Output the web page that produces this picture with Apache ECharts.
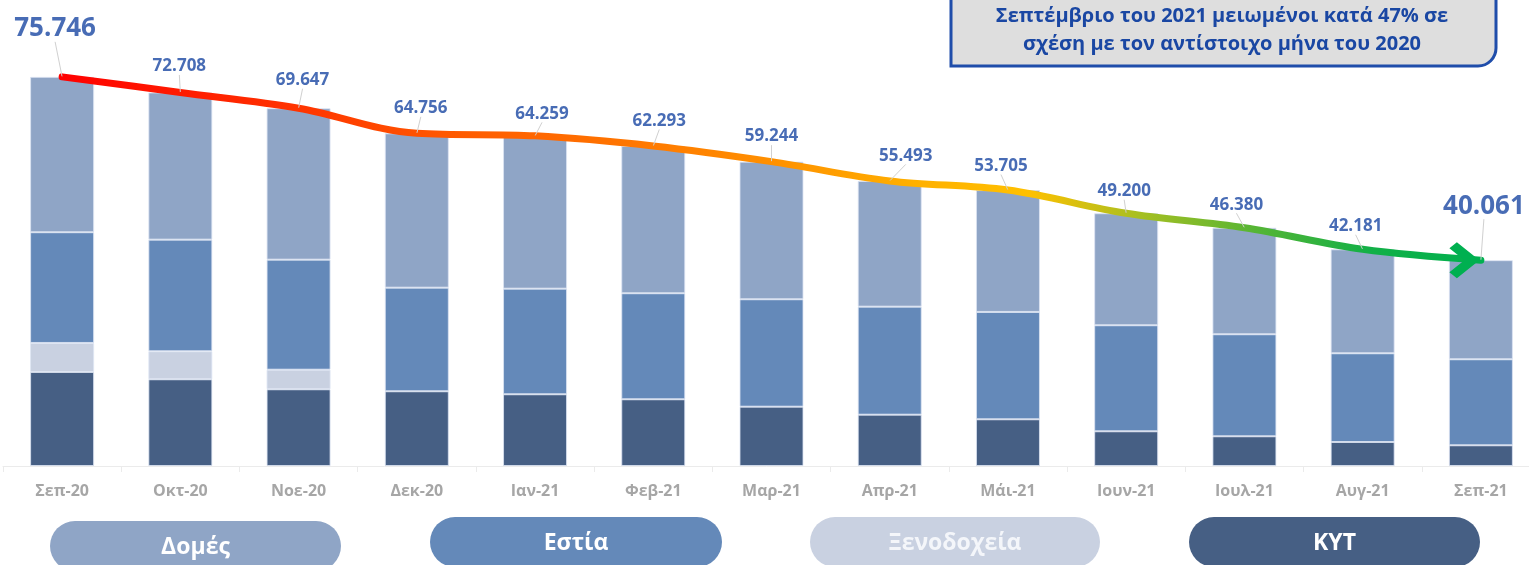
<!DOCTYPE html>
<html>
<head>
<meta charset="utf-8">
<script src="https://cdn.jsdelivr.net/npm/echarts@6/dist/echarts.min.js"></script>
<style>
html,body{margin:0;padding:0;background:#fff;}
#c{width:1529px;height:565px;}
</style>
</head>
<body>
<div id="c"></div>
<script>
// ---- data ----
const categories = ['Σεπ-20','Οκτ-20','Νοε-20','Δεκ-20','Ιαν-21','Φεβ-21','Μαρ-21','Απρ-21','Μάι-21','Ιουν-21','Ιουλ-21','Αυγ-21','Σεπ-21'];
const totals  = [75746,72708,69647,64756,64259,62293,59244,55493,53705,49200,46380,42181,40061];
const domes   = [30244,28646,29480,30040,29738,28667,26787,24477,23720,21805,20737,20238,19286];
const estia   = [21554,21729,21417,20171,20561,20639,20911,21028,20892,20639,19860,17270,16745];
const xenod   = [5646,5452,3816,0,0,0,0,0,0,0,0,0,0];
const kyt     = [18302,16881,14934,14545,13960,12987,11546,9988,9093,6756,5783,4673,4030];
const seriesNames = ['Δομές','Εστία','Ξενοδοχεία','ΚΥΤ'];
const noteLines = ['Σεπτέμβριο του 2021 μειωμένοι κατά 47% σε','σχέση με τον αντίστοιχο μήνα του 2020'];

// label placement (layout, not data)
const labelDx = [-7,-1,4,4,7,6,0,16,-7,-2,-8,-7,3];
const labelDy = [-48,-26,-28,-25,-22,-25,-25,-25,-24,-22,-23,-23,-54];

const C_DOM = '#8FA5C6', C_EST = '#6489B9', C_XEN = '#C9D1E1', C_KYT = '#465F84';
const BLUE = '#1A47A3';
const FONT = 'Open Sans';

function fmt(v){ return String(v).replace(/\B(?=(\d{3})+(?!\d))/g,'.'); }
const nz = a => a.map(v => v === 0 ? '-' : v);

const barBase = {
  type:'bar', stack:'t', barWidth:64,
  itemStyle:{borderColor:'rgba(220,228,242,0.8)', borderWidth:1},
  emphasis:{disabled:true}
};

const chevron = 'path://M0,4 L4,0 L16,12 L4,24 L0,20 L8,12 Z';
const lineData = totals.map((v,i) => i === totals.length-1
  ? {value:v, symbol:chevron, symbolSize:[30,36], symbolKeepAspect:false, symbolOffset:['-55%',0], itemStyle:{color:'#00B050'}}
  : {value:v});

const pills = [
  {x:50,  y:521, w:291, color:C_DOM, text:seriesNames[0], tc:'#FFFFFF'},
  {x:430, y:517, w:292, color:C_EST, text:seriesNames[1], tc:'#FFFFFF'},
  {x:810, y:517, w:290, color:C_XEN, text:seriesNames[2], tc:'#F4F6FA'},
  {x:1189,y:517, w:291, color:C_KYT, text:seriesNames[3], tc:'#FFFFFF'}
];
const graphics = [];
pills.forEach(p => {
  graphics.push({type:'rect', left:p.x, top:p.y, shape:{width:p.w, height:50, r:25}, style:{fill:p.color}, z:10});
  graphics.push({type:'text', x:p.x + p.w/2, y:p.y + 26, style:{text:p.text, fill:p.tc, font:'bold 23px "'+FONT+'"', textAlign:'center', textVerticalAlign:'middle'}, z:11});
});
graphics.push({type:'rect', x:951, y:-20, shape:{width:545, height:86, r:[0,0,18,0]}, style:{fill:'#DEDEDE', stroke:'#1F4DAA', lineWidth:3}, z:10});
graphics.push({type:'text', x:1222, y:16, style:{text:noteLines[0], fill:BLUE, font:'bold 20px "'+FONT+'"', textAlign:'center', textVerticalAlign:'middle'}, z:11});
graphics.push({type:'text', x:1222, y:44, style:{text:noteLines[1], fill:BLUE, font:'bold 20px "'+FONT+'"', textAlign:'center', textVerticalAlign:'middle'}, z:11});

const chart = echarts.init(document.getElementById('c'), null, {renderer:'canvas'});
chart.setOption({
  animation:false,
  backgroundColor:'#FFFFFF',
  textStyle:{fontFamily:FONT},
  grid:{left:3, right:-11, top:55, height:411, outerBoundsMode:'none', containLabel:false},
  xAxis:{
    type:'category', data:categories, boundaryGap:true,
    axisLine:{show:true, lineStyle:{color:'#EBEBEB', width:1}},
    axisTick:{show:true, length:6, lineStyle:{color:'#EBEBEB'}},
    axisLabel:{color:'#A6A6A6', fontSize:16, fontWeight:'bold', fontFamily:FONT, margin:17, interval:0}
  },
  yAxis:{type:'value', min:0, max:80000, show:false, splitLine:{show:false}},
  series:[
    Object.assign({}, barBase, {name:seriesNames[3], data:kyt, itemStyle:Object.assign({}, barBase.itemStyle, {color:C_KYT})}),
    Object.assign({}, barBase, {name:seriesNames[2], data:nz(xenod), itemStyle:Object.assign({}, barBase.itemStyle, {color:C_XEN})}),
    Object.assign({}, barBase, {name:seriesNames[1], data:estia, itemStyle:Object.assign({}, barBase.itemStyle, {color:C_EST})}),
    Object.assign({}, barBase, {name:seriesNames[0], data:domes, itemStyle:Object.assign({}, barBase.itemStyle, {color:C_DOM})}),
    {
      type:'line', name:'trend', data:lineData, smooth:0.35, symbol:'none', z:5,
      lineStyle:{width:7, cap:'round', color:new echarts.graphic.LinearGradient(0,0,1,0,[
        {offset:0, color:'#FF0000'},
        {offset:0.17, color:'#FF3500'},
        {offset:0.27, color:'#FF5800'},
        {offset:0.36, color:'#FF6C00'},
        {offset:0.5, color:'#FF9000'},
        {offset:0.6, color:'#FFB000'},
        {offset:0.68, color:'#FFC000'},
        {offset:0.76, color:'#A5BF22'},
        {offset:0.84, color:'#55B535'},
        {offset:0.92, color:'#12B047'},
        {offset:1, color:'#00B050'}
      ])},
      emphasis:{disabled:true}
    },
    {
      type:'scatter', name:'totals', symbolSize:1, z:8,
      data:totals.map((v,i)=> (i===0||i===totals.length-1) ? {value:v, label:{fontSize:26}} : v),
      itemStyle:{color:'rgba(0,0,0,0)'},
      label:{show:true, position:'inside', formatter:p => fmt(p.value),
        color:BLUE, fontWeight:'bold', fontFamily:FONT, fontSize:17},
      labelLayout:function(p){ return {dx:labelDx[p.dataIndex], dy:labelDy[p.dataIndex], hideOverlap:false}; },
      labelLine:{show:true, lineStyle:{color:'#D0D0D0', width:1}},
      emphasis:{disabled:true}
    }
  ],
  graphic:graphics
});
</script>
</body>
</html>
